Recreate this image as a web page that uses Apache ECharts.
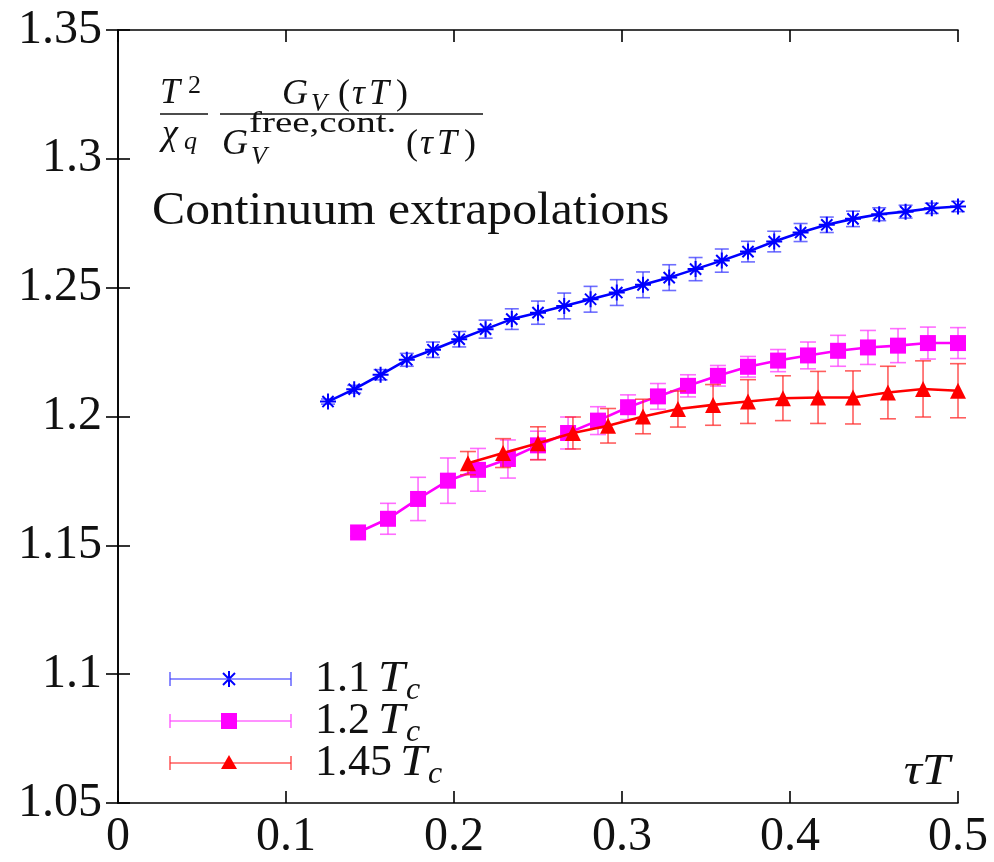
<!DOCTYPE html>
<html>
<head>
<meta charset="utf-8">
<script src="https://cdn.jsdelivr.net/npm/echarts@6/dist/echarts.min.js"></script>
<style>
html,body{margin:0;padding:0;background:#fff;}
#chart{width:994px;height:862px;}
</style>
</head>
<body>
<div id="chart"></div>
<script>
// ---- data ----
const xTickLabels = ['0', '0.1', '0.2', '0.3', '0.4', '0.5'];
const yTickLabels = ['1.05', '1.1', '1.15', '1.2', '1.25', '1.3', '1.35'];

const seriesNames = ['1.1', '1.2', '1.45'];

const blueX = [0.125, 0.1406, 0.1563, 0.1719, 0.1875, 0.2031, 0.2188, 0.2344, 0.25, 0.2656, 0.2813, 0.2969, 0.3125,
  0.3281, 0.3438, 0.3594, 0.375, 0.3906, 0.4063, 0.4219, 0.4375, 0.4531, 0.4688, 0.4844, 0.5];
const blueY = [1.2058, 1.2106, 1.2162, 1.2220, 1.2259, 1.2300, 1.2339, 1.2378, 1.2403, 1.2429, 1.2455, 1.2481, 1.2511,
  1.2539, 1.2572, 1.2605, 1.2640, 1.2679, 1.2714, 1.2744, 1.2767, 1.2785, 1.2795, 1.2808, 1.2815];
const blueErr = [0.0010, 0.0015, 0.0020, 0.0025, 0.0030, 0.0030, 0.0035, 0.0040, 0.0045, 0.0050, 0.0050, 0.0050, 0.0050,
  0.0050, 0.0045, 0.0045, 0.0040, 0.0040, 0.0035, 0.0030, 0.0030, 0.0025, 0.0025, 0.0020, 0.0020];

const magentaX = [0.1429, 0.1607, 0.1786, 0.1964, 0.2143, 0.2321, 0.25, 0.2679, 0.2857, 0.3036, 0.3214, 0.3393,
  0.3571, 0.375, 0.3929, 0.4107, 0.4286, 0.4464, 0.4643, 0.4821, 0.5];
const magentaY = [1.1550, 1.1603, 1.1680, 1.1751, 1.1793, 1.1835, 1.1888, 1.1936, 1.1984, 1.2036, 1.2078, 1.2119,
  1.2158, 1.2193, 1.2217, 1.2237, 1.2255, 1.2268, 1.2275, 1.2285, 1.2285];
const magentaErr = [0.0015, 0.0060, 0.0084, 0.0088, 0.0083, 0.0074, 0.0055, 0.0062, 0.0054, 0.0048, 0.0050, 0.0043,
  0.0040, 0.0040, 0.0043, 0.0052, 0.0060, 0.0066, 0.0066, 0.0062, 0.0060];

const redX = [0.2083, 0.2292, 0.25, 0.2708, 0.2917, 0.3125, 0.3333, 0.3542, 0.375, 0.3958, 0.4167, 0.4375, 0.4583,
  0.4792, 0.5];
const redY = [1.1819, 1.1858, 1.1896, 1.1936, 1.1964, 1.2000, 1.2029, 1.2045, 1.2058, 1.2071, 1.2074, 1.2074, 1.2093,
  1.2107, 1.2100];
const redErr = [0.0045, 0.0056, 0.0064, 0.0062, 0.0067, 0.0067, 0.0070, 0.0079, 0.0085, 0.0087, 0.0101, 0.0103, 0.0102,
  0.0109, 0.0105];

// ---- styling ----
const FONT = '"Liberation Serif", "DejaVu Serif", serif';
const AX = 48;
const BLUE = '#0000ff', MAG = '#ff00ff', RED = '#ff0000';
const BLUE_E = 'rgba(60,60,255,0.75)', MAG_E = 'rgba(255,60,255,0.75)', RED_E = 'rgba(255,40,40,0.75)';
const ASTER = 'path://M10,0L10,20M0,10L20,10M3,3L17,17M3,17L17,3';

function zip(xs, ys, es) { return xs.map((x, i) => es ? [x, ys[i], es[i]] : [x, ys[i]]); }

function errSeries(xs, ys, es, color, capHalf, z) {
  return {
    type: 'custom', z: z, silent: true,
    data: zip(xs, ys, es),
    renderItem: function (params, api) {
      const x = api.value(0), y = api.value(1), e = api.value(2);
      const top = api.coord([x, y + e]);
      const bot = api.coord([x, y - e]);
      const st = { stroke: color, lineWidth: 1.6 };
      return {
        type: 'group',
        children: [
          { type: 'line', shape: { x1: top[0], y1: top[1], x2: bot[0], y2: bot[1] }, style: st },
          { type: 'line', shape: { x1: top[0] - capHalf, y1: top[1], x2: top[0] + capHalf, y2: top[1] }, style: st },
          { type: 'line', shape: { x1: bot[0] - capHalf, y1: bot[1], x2: bot[0] + capHalf, y2: bot[1] }, style: st }
        ]
      };
    }
  };
}

function lineSeries(name, xs, ys, color, symbol, size, z, stroked) {
  return {
    type: 'line', name: name, z: z,
    data: zip(xs, ys),
    symbol: symbol, symbolSize: size, showAllSymbol: true,
    lineStyle: { color: color, width: 2.6 },
    itemStyle: stroked ? { color: 'rgba(0,0,0,0)', borderColor: color, borderWidth: 2 } : { color: color },
    emphasis: { disabled: true },
    animation: false
  };
}

const axisCommon = {
  axisLine: { show: true, lineStyle: { color: '#000', width: 1.6 } },
  axisTick: { show: true, inside: true, length: 12, lineStyle: { color: '#000', width: 1.6 } },
  splitLine: { show: false }
};

// ---- overlay text / legend ----
function txt(x, y, text, font, align, sx) {
  return { type: 'text', x: x, y: y, z: 100, scaleX: sx || 1,
    style: { text: text, font: font, fill: '#111', textAlign: align || 'left', textVerticalAlign: 'middle' } };
}
function hline(x1, x2, y, color, w) {
  return { type: 'line', z: 100, shape: { x1: x1, y1: y, x2: x2, y2: y }, style: { stroke: color, lineWidth: w } };
}
function vline(x, y1, y2, color, w) {
  return { type: 'line', z: 100, shape: { x1: x, y1: y1, x2: x, y2: y2 }, style: { stroke: color, lineWidth: w } };
}
const it = s => 'italic ' + s + 'px ' + FONT;
const rm = s => s + 'px ' + FONT;

const graphics = [];
// formula  T^2/chi_q * G_V(tau T) / G_V^{free,cont.}(tau T)
graphics.push(txt(160, 94, 'T', it(36)));
graphics.push(txt(188, 86, '2', rm(26)));
graphics.push(hline(160, 208, 114, '#111', 1.5));
graphics.push(txt(162, 135, 'χ', it(36)));
graphics.push(txt(184, 142, 'q', it(26)));
graphics.push(txt(282, 95, 'G', it(36)));
graphics.push(txt(311, 104, 'V', it(26)));
graphics.push(txt(338, 95, '(', rm(36)));
graphics.push(txt(352, 95, 'τ', it(36)));
graphics.push(txt(369, 95, 'T', it(36)));
graphics.push(txt(396, 95, ')', rm(36)));
graphics.push(hline(220, 483, 114, '#111', 1.5));
graphics.push(txt(222, 145, 'G', it(36)));
graphics.push(txt(249, 124, 'free,cont.', rm(30), 'left', 1.3));
graphics.push(txt(251, 157, 'V', it(26)));
graphics.push(txt(406, 145, '(', rm(36)));
graphics.push(txt(420, 145, 'τ', it(36)));
graphics.push(txt(437, 145, 'T', it(36)));
graphics.push(txt(464, 145, ')', rm(36)));
// subtitle
graphics.push(txt(152, 212, 'Continuum extrapolations', rm(46), 'left', 1.08));
// axis name
graphics.push(txt(950, 772, 'τT', it(44), 'right', 1.15));

// legend rows
const legendRows = [
  { y: 679, color: BLUE, ecolor: BLUE_E, label: seriesNames[0] },
  { y: 721, color: MAG, ecolor: MAG_E, label: seriesNames[1] },
  { y: 763, color: RED, ecolor: RED_E, label: seriesNames[2] }
];
legendRows.forEach((r, i) => {
  graphics.push(hline(170, 291, r.y, r.ecolor, 1.6));
  graphics.push(vline(170, r.y - 7, r.y + 7, r.ecolor, 1.6));
  graphics.push(vline(291, r.y - 7, r.y + 7, r.ecolor, 1.6));
  if (i === 0) {
    graphics.push({ type: 'group', x: 229, y: r.y, z: 101, children: [
      { type: 'line', shape: { x1: 0, y1: -8, x2: 0, y2: 8 }, style: { stroke: r.color, lineWidth: 2 } },
      { type: 'line', shape: { x1: -6, y1: -6, x2: 6, y2: 6 }, style: { stroke: r.color, lineWidth: 2 } },
      { type: 'line', shape: { x1: -6, y1: 6, x2: 6, y2: -6 }, style: { stroke: r.color, lineWidth: 2 } }
    ] });
  } else if (i === 1) {
    graphics.push({ type: 'rect', z: 101, shape: { x: 221, y: r.y - 8, width: 16, height: 16 }, style: { fill: r.color } });
  } else {
    graphics.push({ type: 'polygon', z: 101, shape: { points: [[229, r.y - 8], [221, r.y + 6], [237, r.y + 6]] }, style: { fill: r.color } });
  }
  const w = r.label.length;
  graphics.push(txt(315, r.y, r.label, rm(44)));
  const tx = 315 + (w === 3 ? 63 : 85);
  graphics.push(txt(tx, r.y, 'T', it(44), 'left', 1.1));
  graphics.push(txt(tx + 28, r.y + 12, 'c', it(32)));
});

const chart = echarts.init(document.getElementById('chart'), null, { renderer: 'canvas' });
chart.setOption({
  animation: false,
  backgroundColor: '#fff',
  grid: { left: 118, right: 36, top: 30, bottom: 59, containLabel: false },
  xAxis: [
    Object.assign({}, axisCommon, {
      type: 'value', min: 0, max: 0.5, interval: 0.1, position: 'bottom',
      axisLabel: { fontFamily: FONT, fontSize: AX, color: '#111', margin: 10,
        formatter: v => xTickLabels[Math.round(v / 0.1)] }
    }),
    Object.assign({}, axisCommon, {
      type: 'value', min: 0, max: 0.5, interval: 0.1, position: 'top', axisLabel: { show: false }
    })
  ],
  yAxis: [
    Object.assign({}, axisCommon, {
      type: 'value', min: 1.05, max: 1.35, interval: 0.05, position: 'left',
      axisLabel: { fontFamily: FONT, fontSize: AX, color: '#111', margin: 16,
        formatter: v => yTickLabels[Math.round((v - 1.05) / 0.05)] }
    }),
    Object.assign({}, axisCommon, {
      type: 'value', min: 1.05, max: 1.35, interval: 0.05, position: 'right', axisLabel: { show: false }
    })
  ],
  series: [
    errSeries(blueX, blueY, blueErr, BLUE_E, 7, 2),
    lineSeries('1.1 Tc', blueX, blueY, BLUE, ASTER, 16, 3, true),
    errSeries(magentaX, magentaY, magentaErr, MAG_E, 8, 4),
    lineSeries('1.2 Tc', magentaX, magentaY, MAG, 'rect', 16, 5, false),
    errSeries(redX, redY, redErr, RED_E, 8, 6),
    lineSeries('1.45 Tc', redX, redY, RED, 'triangle', 16, 7, false)
  ],
  graphic: graphics
});
</script>
</body>
</html>
